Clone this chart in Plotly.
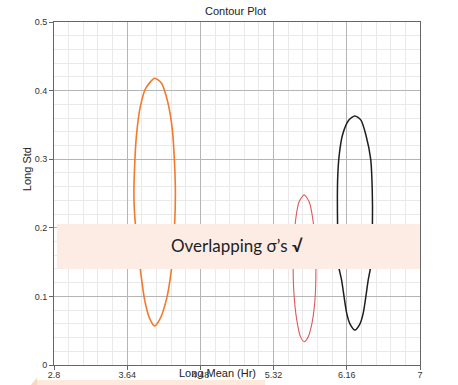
import plotly.graph_objects as go

# ---- data ----
x_ticks = [2.8, 3.64, 4.48, 5.32, 6.16, 7]
x_tick_labels = ["2.8", "3.64", "4.48", "5.32", "6.16", "7"]
y_ticks = [0, 0.1, 0.2, 0.3, 0.4, 0.5]
y_tick_labels = ["0", "0.1", "0.2", "0.3", "0.4", "0.5"]

orange_mean = [3.955, 4.032, 4.108, 4.158, 4.185, 4.193, 4.185, 4.147, 4.089, 4.012, 3.955,
               3.897, 3.840, 3.791, 3.733, 3.717, 3.725, 3.745, 3.791, 3.851, 3.955]
orange_std = [0.418, 0.411, 0.382, 0.343, 0.289, 0.250, 0.207, 0.139, 0.095, 0.066, 0.057,
              0.068, 0.095, 0.139, 0.207, 0.245, 0.289, 0.333, 0.377, 0.403, 0.418]

red_mean = [5.671, 5.728, 5.774, 5.802, 5.805, 5.790, 5.756, 5.717, 5.671,
            5.629, 5.583, 5.552, 5.544, 5.552, 5.575, 5.613, 5.671]
red_std = [0.248, 0.238, 0.209, 0.165, 0.126, 0.088, 0.058, 0.041, 0.034,
           0.041, 0.068, 0.107, 0.141, 0.175, 0.214, 0.238, 0.248]

black_mean = [6.253, 6.322, 6.380, 6.434, 6.452, 6.454, 6.437, 6.406, 6.349, 6.311, 6.253,
              6.196, 6.158, 6.100, 6.064, 6.054, 6.052, 6.056, 6.072, 6.110, 6.184, 6.253]
black_std = [0.363, 0.357, 0.335, 0.300, 0.255, 0.204, 0.146, 0.124, 0.076, 0.060, 0.051,
             0.060, 0.076, 0.124, 0.146, 0.204, 0.245, 0.275, 0.305, 0.335, 0.357, 0.363]

fig = go.Figure()
for xs, ys, col, w in [(orange_mean, orange_std, "#f4792b", 1.6),
                       (red_mean, red_std, "#dd5a5e", 1.1),
                       (black_mean, black_std, "#1e1e1e", 1.5)]:
    fig.add_trace(go.Scatter(x=xs, y=ys, mode="lines",
                             line=dict(color=col, width=w, shape="spline", smoothing=0.7),
                             showlegend=False, hoverinfo="skip"))

tickfont = dict(family="Liberation Sans, Arial, sans-serif", size=9, color="#333")

fig.update_layout(
    width=458, height=385,
    margin=dict(l=54, r=38, t=22, b=20, autoexpand=False),
    paper_bgcolor="white", plot_bgcolor="white",
    showlegend=False,
    xaxis=dict(range=[2.8, 7], tickmode="array", tickvals=x_ticks, ticktext=x_tick_labels,
               automargin=False, ticklabelstandoff=-3,
               showgrid=True, gridcolor="#b5b5b5", gridwidth=1,
               minor=dict(tick0=2.8, dtick=0.168, showgrid=True, gridcolor="#e9e9e9", gridwidth=1),
               showline=True, linecolor="#666", linewidth=1, mirror=True,
               ticks="outside", ticklen=4, tickcolor="#666", tickfont=tickfont,
               zeroline=False, fixedrange=True),
    yaxis=dict(range=[0, 0.5], tickmode="array", tickvals=y_ticks, ticktext=y_tick_labels,
               automargin=False,
               showgrid=True, gridcolor="#b5b5b5", gridwidth=1,
               minor=dict(tick0=0, dtick=0.02, showgrid=True, gridcolor="#e9e9e9", gridwidth=1),
               showline=True, linecolor="#666", linewidth=1, mirror=True,
               ticks="outside", ticklen=4, tickcolor="#666", tickfont=tickfont,
               zeroline=False, fixedrange=True),
    annotations=[
        dict(text="Contour Plot", xref="paper", yref="paper", x=0.497, y=1.0, yshift=11,
             showarrow=False, xanchor="center", yanchor="middle",
             font=dict(family="Liberation Sans, Arial, sans-serif", size=11, color="#222")),
        dict(text="Long Mean (Hr)", xref="paper", yref="paper", x=0.446, y=0, yshift=-8,
             showarrow=False, xanchor="center", yanchor="middle",
             font=dict(family="Liberation Sans, Arial, sans-serif", size=11, color="#222")),
        dict(text="Long Std", xref="paper", yref="paper", x=0, xshift=-27, y=0.571,
             showarrow=False, xanchor="center", yanchor="middle", textangle=-90,
             font=dict(family="Liberation Sans, Arial, sans-serif", size=11, color="#222")),
        dict(text="Overlapping σ’s <b>√</b>", xref="paper", yref="paper", x=0.5, y=0.347,
             showarrow=False, xanchor="center", yanchor="middle",
             font=dict(family="Lato, Open Sans, sans-serif", size=17, color="#1e1e1e")),
    ],
    shapes=[
        dict(type="rect", xref="paper", yref="paper", x0=0.008, x1=1.0, y0=0.280, y1=0.411,
             fillcolor="#fdece4", line=dict(width=0), layer="above"),
        dict(type="rect", xref="paper", yref="paper", x0=-0.046, x1=0.577, y0=-0.062, y1=-0.044,
             fillcolor="#fdeadc", line=dict(width=0)),
        dict(type="path", xref="paper", yref="paper",
             path="M -0.066,-0.062 L -0.046,-0.036 L -0.046,-0.062 Z",
             fillcolor="#fbd9c0", line=dict(width=0)),
    ],
)

fig.write_html("out.html")
